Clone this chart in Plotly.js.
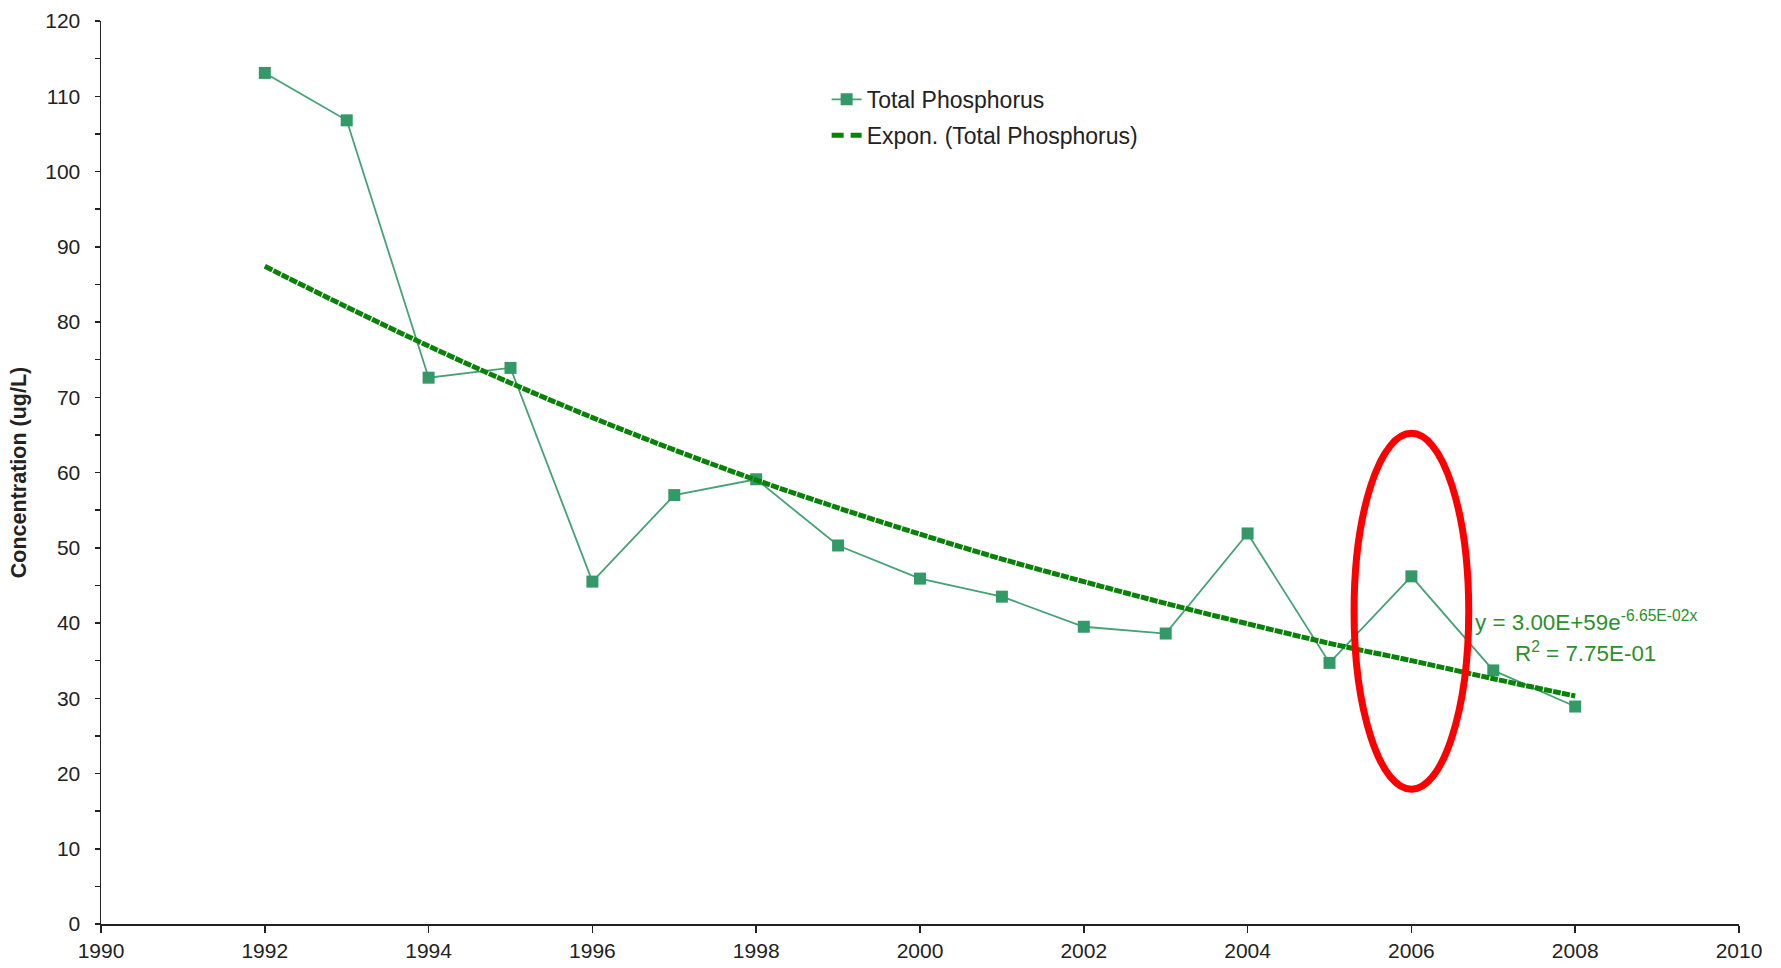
<!DOCTYPE html>
<html>
<head>
<meta charset="utf-8">
<script src="https://cdn.plot.ly/plotly-3.0.1.min.js"></script>
<style>
  html, body { margin: 0; padding: 0; background: #ffffff; }
  #chart { width: 1781px; height: 968px; }
</style>
</head>
<body>
<div id="chart"></div>
<script>
// Data
const years = [1992, 1993, 1994, 1995, 1996, 1997, 1998, 1999, 2000, 2001, 2002, 2003, 2004, 2005, 2006, 2007, 2008];
const totalPhosphorus = [113.1, 106.8, 72.6, 73.9, 45.5, 57.0, 59.1, 50.3, 45.9, 43.5, 39.5, 38.6, 51.9, 34.7, 46.2, 33.7, 28.9];
// Exponential trendline as drawn in the reference
const trendValues = [87.4, 82.0, 76.8, 71.9, 67.3, 63.0, 59.0, 55.3, 51.8, 48.5, 45.5, 42.6, 39.9, 37.3, 35.0, 32.6, 30.3];
const seriesName = 'Total Phosphorus';
const trendName = 'Expon. (Total Phosphorus)';
const equationText = 'y = 3.00E+59e<sup>-6.65E-02x</sup>';
const rSquaredText = 'R<sup>2</sup> = 7.75E-01';
const highlightYear = 2006;

const FONT = 'Liberation Sans, Arial, sans-serif';

const traces = [
  {
    x: years, y: totalPhosphorus, name: seriesName, legendgroup: 'a',
    type: 'scatter', mode: 'lines+markers',
    line: { color: '#45a275', width: 1.8 },
    marker: { symbol: 'square', size: 12, color: '#339966' },
    hoverinfo: 'x+y'
  },
  {
    x: years, y: trendValues, name: trendName, legendgroup: 'b',
    type: 'scatter', mode: 'lines',
    line: { color: '#0a820a', width: 5, dash: '8px,1.2px', shape: 'spline', smoothing: 1 },
    showlegend: false
  },
  {
    x: [null], y: [null], name: trendName, legendgroup: 'b',
    type: 'scatter', mode: 'lines',
    line: { color: '#0a820a', width: 5, dash: '12px,7px' },
    hoverinfo: 'skip'
  }
];

const layout = {
  width: 1781, height: 968,
  paper_bgcolor: '#ffffff', plot_bgcolor: '#ffffff',
  margin: { l: 101, r: 42, t: 21, b: 44 },
  font: { family: FONT, size: 21, color: '#222222' },
  showlegend: true,
  legend: {
    x: 0.443, y: 0.937, xanchor: 'left', yanchor: 'top',
    bgcolor: 'rgba(0,0,0,0)', borderwidth: 0,
    font: { family: FONT, size: 23, color: '#222222' },
    traceorder: 'grouped', tracegroupgap: 3
  },
  xaxis: {
    range: [1990, 2010], dtick: 2, tick0: 1990,
    showgrid: false, zeroline: false,
    showline: true, linecolor: '#222222', linewidth: 1.5,
    ticks: 'outside', ticklen: 7, tickwidth: 1.5, tickcolor: '#222222',
    tickfont: { family: FONT, size: 21, color: '#222222' },
    fixedrange: true
  },
  yaxis: {
    range: [0, 120], dtick: 10, tick0: 0,
    showgrid: false, zeroline: false,
    showline: true, linecolor: '#222222', linewidth: 1.5,
    ticks: 'outside', ticklen: 5, tickwidth: 1.5, tickcolor: '#222222',
    ticklabelstandoff: 10,
    minor: { dtick: 5, ticks: 'outside', ticklen: 5, tickwidth: 1.5, tickcolor: '#222222', showgrid: false },
    tickfont: { family: FONT, size: 21, color: '#222222' },
    title: { text: 'Concentration (ug/L)', font: { family: FONT, size: 21.5, color: '#222222', weight: 'bold' }, standoff: 12 },
    fixedrange: true
  },
  annotations: [
    {
      xref: 'x', yref: 'y', x: 2008.13, y: 40.3, xanchor: 'center', yanchor: 'middle',
      text: equationText, showarrow: false,
      font: { family: FONT, size: 22.4, color: '#2b8f2b' }
    },
    {
      xref: 'x', yref: 'y', x: 2008.13, y: 36.1, xanchor: 'center', yanchor: 'middle',
      text: rSquaredText, showarrow: false,
      font: { family: FONT, size: 22.4, color: '#2b8f2b' }
    }
  ],
  shapes: [
    {
      type: 'circle', xref: 'x', yref: 'y', layer: 'above',
      x0: highlightYear - 0.70, x1: highlightYear + 0.70,
      y0: 17.9, y1: 65.2,
      line: { color: '#ff0000', width: 7 },
      fillcolor: 'rgba(0,0,0,0)'
    }
  ]
};

Plotly.newPlot('chart', traces, layout, { displayModeBar: false, staticPlot: true });
</script>
</body>
</html>
